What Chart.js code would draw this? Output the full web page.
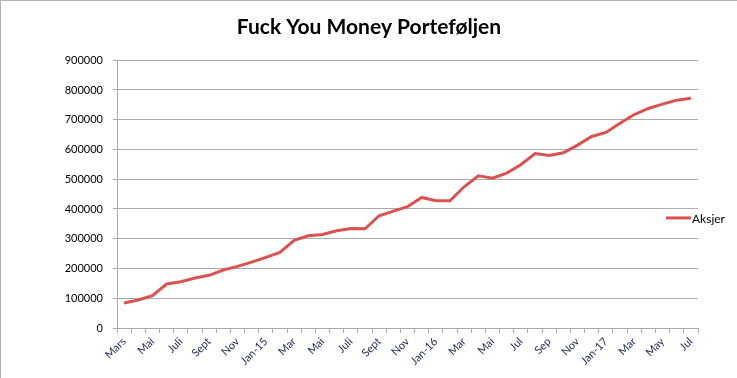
<!DOCTYPE html>
<html lang="no">
<head>
  <meta charset="UTF-8">
  <title>Fuck You Money Porteføljen</title>
  <style>
    body {
      margin: 0;
      background: #fff;
    }

    .wrap {
      width: 736px;
      height: 377px;
      border-left: 1px solid #b4b4b4;
      border-top: 1px solid #b4b4b4;
    }
  </style>
</head>
<body>

  <div class="wrap">
    <canvas id="myChart" width="736" height="377"></canvas>
  </div>

  <script src="https://cdn.jsdelivr.net/npm/chart.js"></script>
  <script>
    // månedlige verdier, mars 2014 - juli 2017
    const months = [
      'Mars', 'Apr', 'Mai', 'Jun', 'Juli', 'Aug', 'Sept', 'Okt', 'Nov', 'Des',
      'Jan-15', 'Feb', 'Mar', 'Apr', 'Mai', 'Jun', 'Juli', 'Aug', 'Sept', 'Okt', 'Nov', 'Des',
      'Jan-16', 'Feb', 'Mar', 'Apr', 'Mai', 'Jun', 'Jul', 'Aug', 'Sep', 'Okt', 'Nov', 'Des',
      'Jan-17', 'Feb', 'Mar', 'Apr', 'May', 'Jun', 'Jul'
    ];

    const aksjer = [
      84000, 94000, 108600, 147800, 155600, 168000, 177000, 194800, 207000, 221600,
      237300, 254000, 294400, 310000, 314000, 327000, 334700, 333600, 377300, 393000, 407500, 438800,
      427600, 427600, 474600, 511600, 503700, 520500, 548500, 586600, 579900, 588800, 614600, 643700,
      657100, 688400, 717500, 737700, 752200, 765700, 772400
    ];

    const yTicks = [0, 100000, 200000, 300000, 400000, 500000, 600000, 700000, 800000, 900000];

    const lineColor = '#DB5350';
    const gridColor = '#ababab';

    // legenden ligger oppå plottet, som i Excel
    const legendBox = {
      id: 'legendBox',
      afterDraw(chart) {
        const ctx = chart.ctx;
        const area = chart.chartArea;
        const ds = chart.data.datasets[0];
        const y = area.top + (area.bottom - area.top) * 0.589;
        const x0 = area.right - 32;
        ctx.save();
        ctx.fillStyle = '#fff';
        ctx.fillRect(x0 - 5, y - 9, 80, 18);
        ctx.strokeStyle = ds.borderColor;
        ctx.lineWidth = 3;
        ctx.beginPath();
        ctx.moveTo(x0, y);
        ctx.lineTo(x0 + 25, y);
        ctx.stroke();
        ctx.fillStyle = '#000';
        ctx.font = '12px Lato';
        ctx.textBaseline = 'middle';
        ctx.fillText(ds.label, x0 + 26, y + 1);
        ctx.restore();
      }
    };

    window.onload = function () {
      const ctx = document.getElementById('myChart').getContext('2d');
      const myChart = new Chart(ctx, {
        type: 'line',
        data: {
          labels: months,
          datasets: [{
            label: 'Aksjer',
            data: aksjer,
            borderColor: lineColor,
            backgroundColor: lineColor,
            borderWidth: 3,
            pointRadius: 0,
            tension: 0,
            fill: false
          }]
        },
        plugins: [legendBox],
        options: {
          responsive: false,
          animation: false,
          layout: {
            padding: 0
          },
          plugins: {
            legend: { display: false },
            tooltip: { enabled: false },
            title: {
              display: true,
              text: 'Fuck You Money Porteføljen',
              color: '#000',
              font: { family: 'Lato', size: 21, weight: 'bold' },
              padding: { top: 14, bottom: 20 }
            }
          },
          scales: {
            x: {
              offset: true,
              grid: {
                offset: true,
                drawOnChartArea: false,
                drawTicks: true,
                tickLength: 5,
                color: gridColor
              },
              border: { color: gridColor },
              ticks: {
                autoSkip: false,
                maxRotation: 45,
                minRotation: 45,
                color: '#1c2a55',
                font: { family: 'Lato', size: 11 },
                padding: 2,
                callback: function (val, i) {
                  return i % 2 === 0 ? this.getLabelForValue(val) : '';
                }
              },
              afterFit: function (scale) {
                scale.height = 50;
              }
            },
            y: {
              min: 0,
              max: 900000,
              afterBuildTicks: function (scale) {
                scale.ticks = yTicks.map(v => ({ value: v }));
              },
              grid: {
                color: gridColor,
                drawTicks: true,
                tickLength: 4
              },
              border: { color: gridColor },
              ticks: {
                color: '#000',
                font: { family: 'Lato', size: 11 },
                padding: 10,
                callback: v => String(v)
              },
              afterFit: function (scale) {
                scale.width = 116;
              }
            },
            // tom akse til høyre, gir plass så tittelen står midt på hele bildet
            yRight: {
              position: 'right',
              display: true,
              grid: { display: false },
              border: { display: false },
              ticks: { display: false },
              afterFit: function (scale) {
                scale.width = 39;
              }
            }
          }
        }
      });
    };
  </script>
</body>
</html>
